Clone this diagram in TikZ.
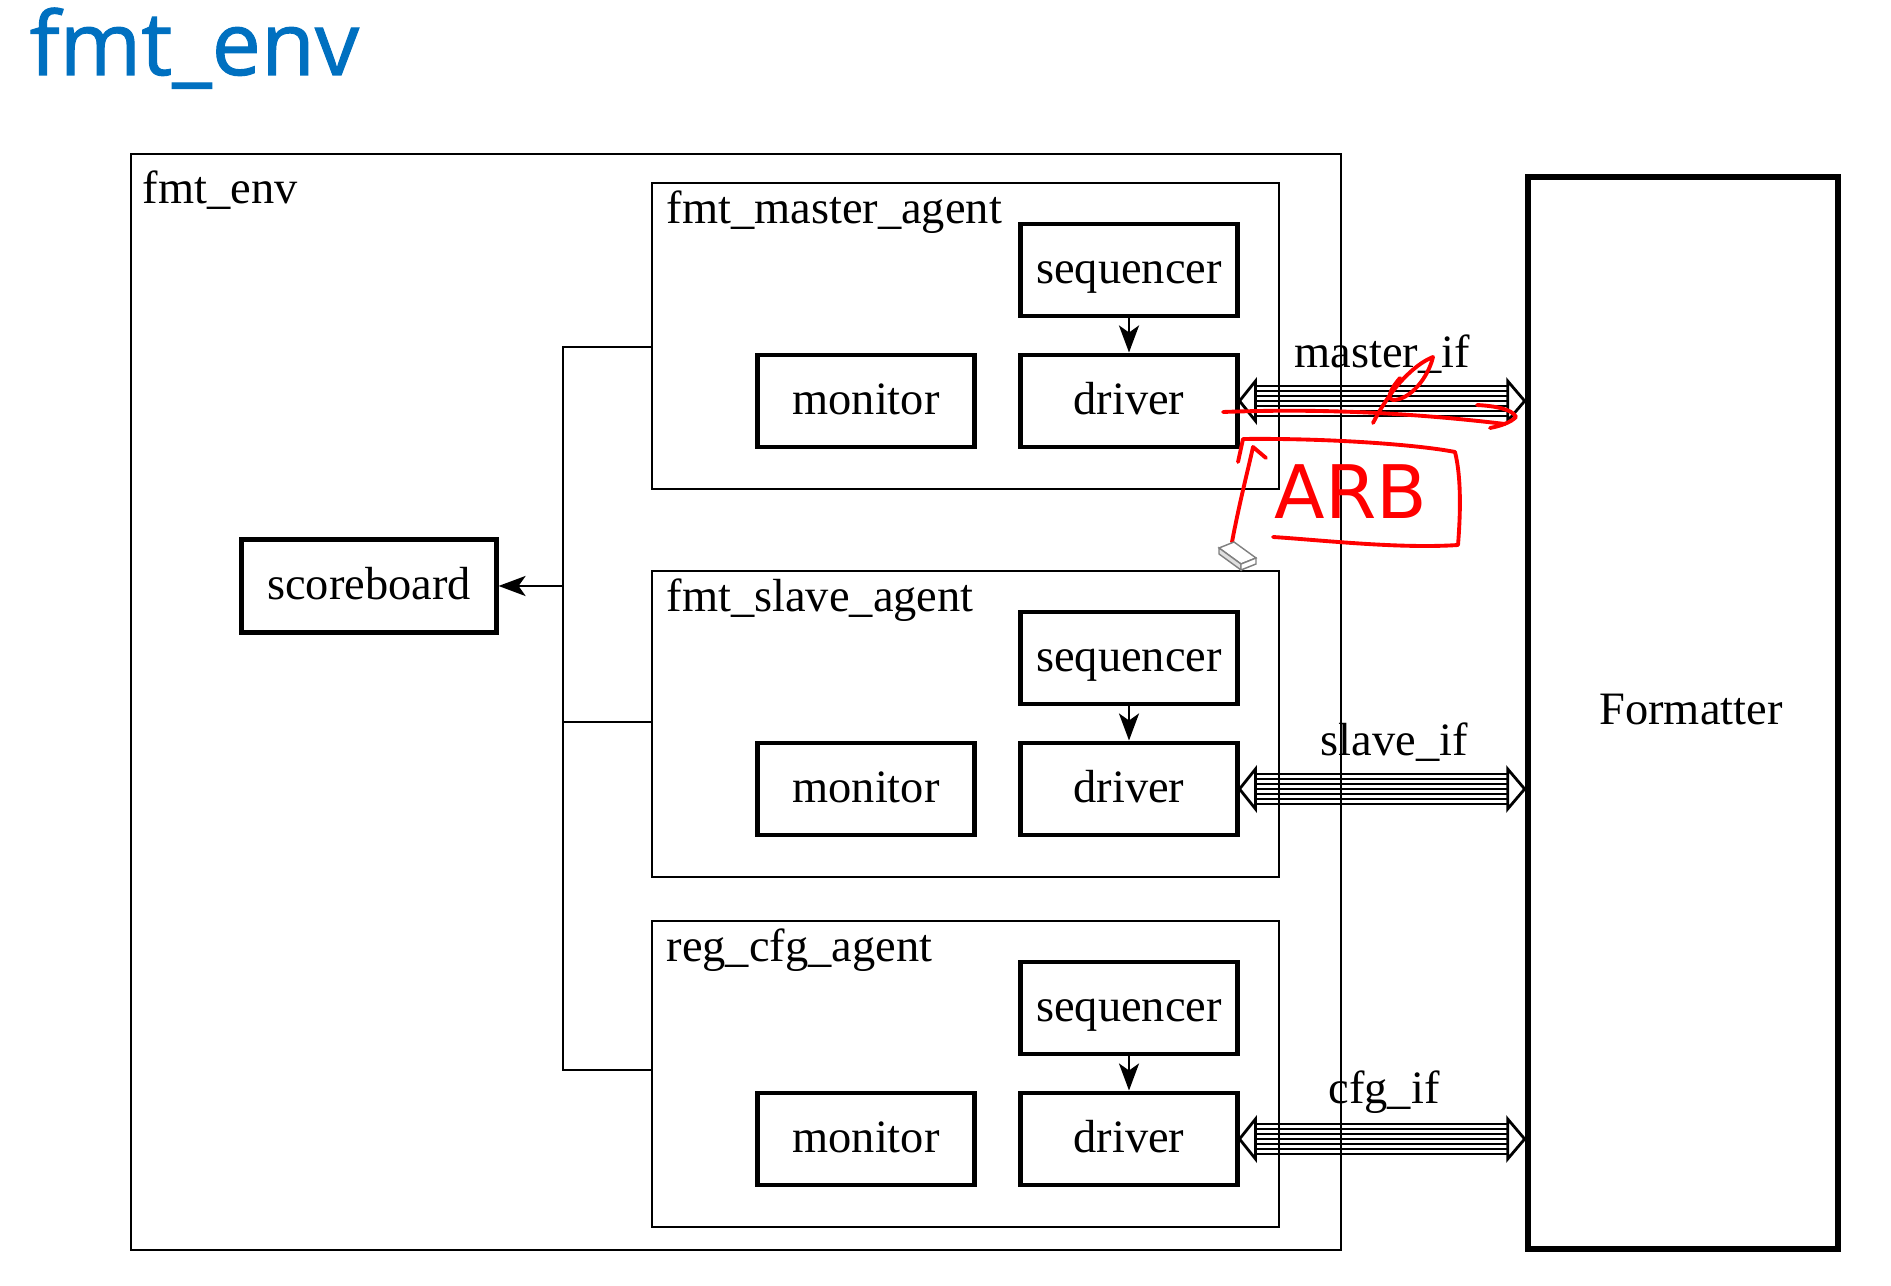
\documentclass[tikz,border=0pt]{standalone}
\usepackage{fontspec}
\setmainfont{Liberation Serif}
\newfontfamily\titlefont[FakeBold=1.2]{Open Sans}
\newfontfamily\handfont{DejaVu Sans}
\usepackage{tikz}
\usetikzlibrary{arrows.meta, shapes, positioning, calc}
\definecolor{titleblue}{RGB}{0,112,192}

\begin{document}
\begin{tikzpicture}[x=0.01cm, y=-0.01cm,
 font=\fontsize{13.2}{15}\selectfont,
 comp/.style={rectangle,draw,line width=1.4pt,minimum width=2.16cm,minimum height=0.92cm,inner sep=0pt,text height=0.8em,text depth=0.06em},
 agent/.style={rectangle,draw,line width=0.6pt,minimum width=6.27cm,minimum height=3.06cm,anchor=north west},
 lbl/.style={anchor=west,inner sep=0pt},
 wire/.style={line width=0.8pt},
 tip/.style={-{Stealth[length=0.27cm,width=0.2cm,inset=0.07cm]}},
 ann/.style={red,line width=1.1pt,line cap=round,line join=round}]

  \useasboundingbox (0,0) rectangle (1891,1286);

  \node[anchor=base west,inner sep=0pt,text=titleblue,font=\titlefont\fontsize{25}{30}\selectfont] (title) at (29,75) {fmt\_env};

  \node[rectangle,draw,line width=0.6pt,minimum width=12.09cm,minimum height=10.95cm,anchor=north west] (env) at (130,153) {};
  \node[lbl] (envlbl) at (142,190) {fmt\_env};

  \node[rectangle,draw,line width=1.85pt,minimum width=3.10cm,minimum height=10.71cm] (fmt) at (1683,713) {};
  \node (fmtlbl) at (1691,710) {Formatter};

  \node[comp,minimum width=2.54cm,minimum height=0.93cm] (sb) at (369,586) {scoreboard};

  \foreach \a/\y/\t/\i/\dx in {ma/182/fmt\_master\_agent/master\_if/0, sl/570/fmt\_slave\_agent/slave\_if/12, rc/920/reg\_cfg\_agent/cfg\_if/2} {
    \node[agent] (\a) at (651,\y) {};
    \node[lbl] at (666,\y+30) {\t};
    \node[comp] (\a seq) at (1129,\y+88) {sequencer};
    \node[comp] (\a drv) at (1129,\y+219) {driver};
    \node[comp,minimum width=2.17cm] (\a mon) at (866,\y+219) {monitor};
    \draw[wire,tip] (\a seq) -- (\a drv);
    % bus to the dut
    \foreach \k in {-15,-10,...,15}
      \draw[line width=0.75pt] ($(\a drv.east)+(16,\k)$) -- ($(\a drv.east -| fmt.west)+(-17,\k)$);
    \draw[line width=0.8pt,fill=white] (\a drv.east) -- ++(16,-20) -- ++(0,40) -- cycle;
    \draw[line width=0.8pt,fill=white] (\a drv.east -| fmt.west) -- ++(-17,-20) -- ++(0,40) -- cycle;
    \path (\a drv.east) -- (\a drv.east -| fmt.west) node[midway,yshift=0.47cm,xshift=\dx*0.01cm] {\i};
  }

  \coordinate (jm) at (563,347);
  \coordinate (js) at (563,722);
  \coordinate (jc) at (563,1070);
  \draw[wire] (jm -| ma.west) -- (jm) -- (jc) -- (jc -| rc.west);
  \draw[wire] (js) -- (js -| sl.west);
  \draw[wire,tip] (sb.east -| jm) -- (sb.east);

  % pen notes
  \draw[ann] (1223,412) .. controls (1330,408) and (1420,414) .. (1505,424);
  \draw[ann] (1477,405) .. controls (1495,406) and (1512,409) .. (1516,417) .. controls (1510,423) and (1500,426) .. (1490,428);
  \draw[ann] (1373,423) .. controls (1395,380) and (1420,362) .. (1433,357) .. controls (1428,378) and (1410,400) .. (1393,400) .. controls (1385,398) and (1393,386) .. (1400,378);
  \draw[ann] (1232,542) .. controls (1240,500) and (1248,470) .. (1253,447) -- (1266,458);
  \draw[ann] (1238,462) -- (1243,439) .. controls (1330,438) and (1420,445) .. (1455,452) .. controls (1462,480) and (1460,520) .. (1458,545) .. controls (1400,549) and (1320,540) .. (1273,537);
  \node[text=red,font=\handfont\fontsize{21}{24}\selectfont,inner sep=0pt] (arb) at (1351,492) {ARB};

  % eraser cursor
  \draw[gray,fill=white] (1219,548) -- (1234,542) -- (1256,558) -- (1241,564) -- cycle;
  \draw[gray,fill=gray!25] (1219,548) -- (1241,564) -- (1241,570) -- (1219,554) -- cycle;
  \draw[gray,fill=white] (1241,564) -- (1256,558) -- (1256,564) -- (1241,570) -- cycle;

\end{tikzpicture}
\end{document}
